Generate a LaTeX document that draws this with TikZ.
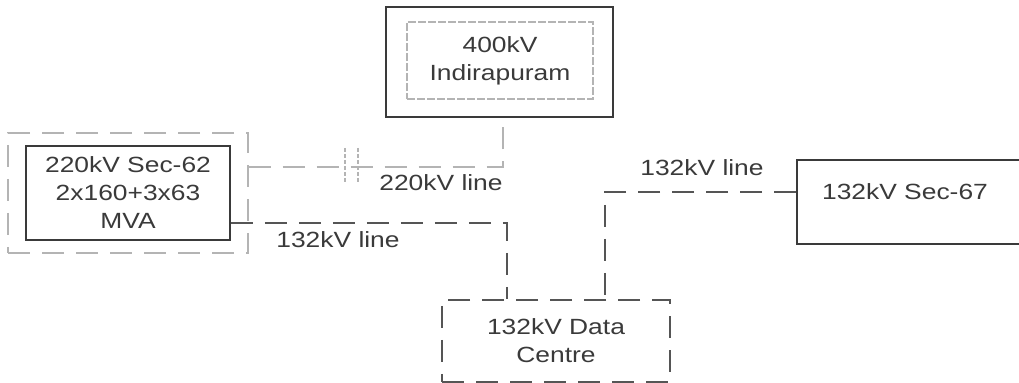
\documentclass[tikz,border=0pt]{standalone}
\usepackage{fontspec}
\setmainfont{Liberation Sans}[FakeStretch=1.2]
\usepackage{tikz}
\usetikzlibrary{positioning,calc}
\definecolor{gsInk}{HTML}{3A3A3A}
\definecolor{gsLine}{HTML}{555555}
\definecolor{gsFaint}{HTML}{B4B4B4}

\begin{document}
\begin{tikzpicture}[
    x=0.5pt, y=-0.5pt,
    font=\fontsize{11}{14}\selectfont,
    solidbox/.style={draw=gsInk, line width=0.9pt, inner sep=0pt, align=center, text=gsInk},
    faintbox/.style={draw=gsFaint, line width=0.6pt, dash pattern=on 11pt off 6pt, inner sep=0pt},
    dashbox/.style={draw=gsLine, line width=0.9pt, dash pattern=on 11pt off 6pt, inner sep=0pt,
                    align=center, text=gsInk},
    hvline/.style={draw=gsLine, line width=0.9pt, dash pattern=on 11pt off 6pt},
    faintline/.style={draw=gsFaint, line width=0.6pt, dash pattern=on 11pt off 6pt},
    lbl/.style={text=gsInk, inner sep=0pt},
  ]
  \useasboundingbox (0,0) rectangle (1019,383);
  \clip (0,0) rectangle (1019,383);
  % nodes
  \node[solidbox, minimum width=113.5pt, minimum height=55pt] (ind) at (499.5,62) {};
  \node[faintbox, draw=gsFaint, dash pattern=on 4pt off 1pt, minimum width=93pt, minimum height=38.5pt,
        align=center, text=gsInk] (indin) at (500,60.5) {400kV\\Indirapuram};
  \node[faintbox, minimum width=120pt, minimum height=60pt] (s62o) at (128,193) {};
  \node[solidbox, minimum width=102pt, minimum height=47pt] (s62) at (128,193)
        {220kV Sec-62\\2x160+3x63\\MVA};
  \node[solidbox, minimum width=116.5pt, minimum height=42pt] (s67) at (913.5,202) {};
  \node[lbl] (s67txt) at (905,192) {132kV Sec-67};
  \node[dashbox, minimum width=114pt, minimum height=41pt] (dc) at (556,341)
        {132kV Data\\Centre};
  % lines
  \draw[faintline] ([yshift=13pt]s62o.east) -| ([xshift=1.75pt]ind.south);
  \draw[faintline, dash pattern=on 2pt off 1pt] (345,148) -- (345,183);
  \draw[faintline, dash pattern=on 2pt off 1pt] (358,148) -- (358,183);
  \draw[hvline] ([yshift=9pt]s62.south east) -| ([xshift=-24.5pt]dc.north);
  \draw[hvline] ([yshift=5pt]s67.west) -| ([xshift=24.5pt]dc.north);
  % line labels
  \node[lbl] (l220) at (441,183) {220kV line};
  \node[lbl] (l132a) at (338,240) {132kV line};
  \node[lbl] (l132b) at (702,168) {132kV line};
\end{tikzpicture}
\end{document}
